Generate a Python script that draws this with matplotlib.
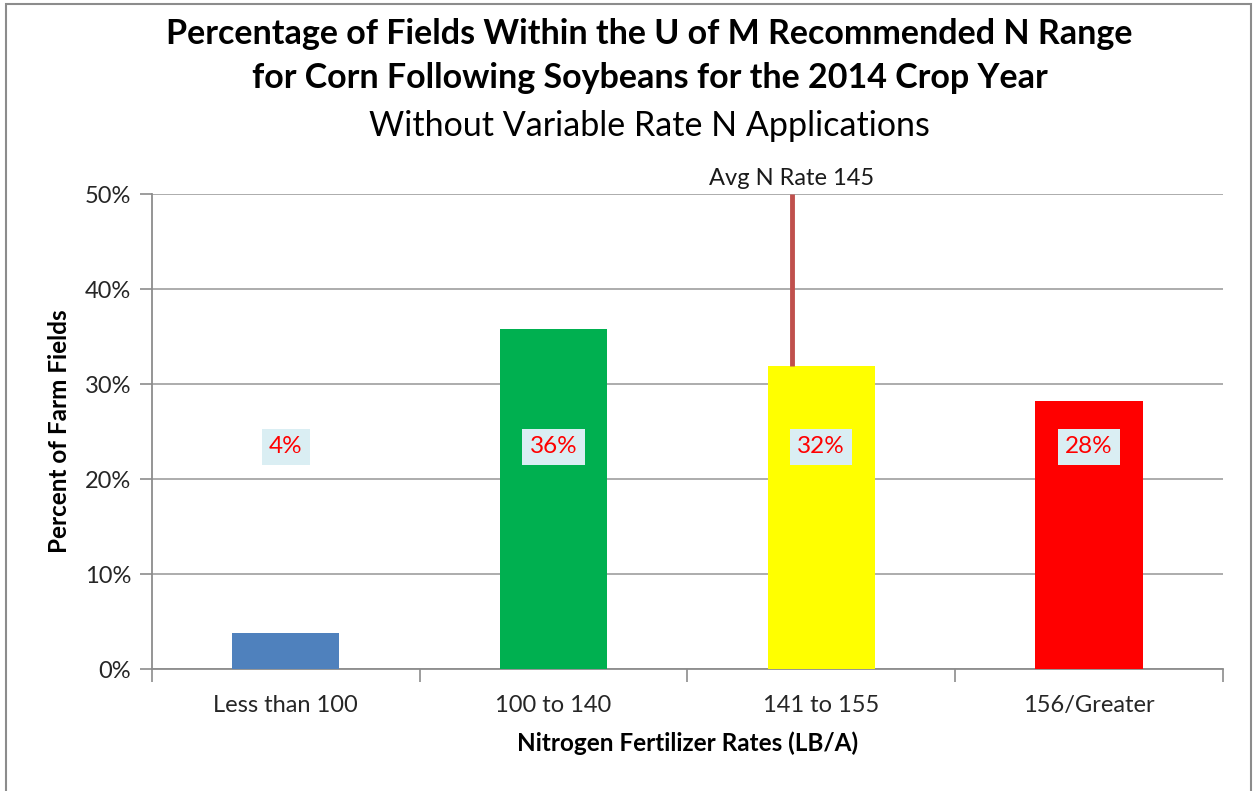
import matplotlib.pyplot as plt
from matplotlib.patches import Rectangle

categories = ["Less than 100", "100 to 140", "141 to 155", "156/Greater"]
percents = [3.8, 35.8, 31.9, 28.2]
labels = ["4%", "36%", "32%", "28%"]
bar_colors = ["#4F81BD", "#00B050", "#FFFF00", "#FF0000"]
avg_rate_pos = 1.89
avg_label = "Avg N Rate 145"

plt.rcParams['font.family'] = ['Lato', 'DejaVu Sans']

fig = plt.figure(figsize=(12.54, 7.91), dpi=100)
ax = fig.add_axes([0.1212, 0.1542, 0.854, 0.6005])

x = list(range(len(categories)))
ax.bar(x, percents, width=0.4, color=bar_colors, zorder=3)

# data labels with light blue boxes
for i in x:
    ax.text(i, 23.4, labels[i], ha='center', va='center', fontsize=17.5, color='#FF0000', zorder=5,
            bbox=dict(boxstyle='square,pad=0.3', facecolor='#DAEEF3', edgecolor='none'))

# average rate marker line
ax.plot([avg_rate_pos, avg_rate_pos], [percents[2], 50], color='#C0504D', linewidth=3.5, zorder=4,
        solid_capstyle='butt')
ax.text(avg_rate_pos, 50.5, avg_label, ha='center', va='bottom', fontsize=17, color='#1a1a1a')

ax.set_xlim(-0.5, 3.5)
ax.set_ylim(0, 50)
ax.set_yticks(range(0, 51, 10))
ax.set_yticklabels([f"{v}%" for v in range(0, 51, 10)], fontsize=17, color='#262626')
ax.set_xticks(x)
ax.set_xticklabels(categories, fontsize=17, color='#262626')
ax.tick_params(axis='x', length=0, pad=19)
ax.set_xticks([-0.5, 0.5, 1.5, 2.5, 3.5], minor=True)
ax.tick_params(axis='x', which='minor', length=9, color='#8c8c8c', width=1.2)
ax.tick_params(axis='y', length=9, color='#8c8c8c', width=1.2, pad=6)

ax.grid(axis='y', color='#a6a6a6', linewidth=1.3, zorder=0)
for s in ['top', 'right']:
    ax.spines[s].set_visible(False)
for s in ['left', 'bottom']:
    ax.spines[s].set_color('#8c8c8c')
    ax.spines[s].set_linewidth(1.3)

ax.set_xlabel("Nitrogen Fertilizer Rates (LB/A)", fontsize=17.5, fontweight='bold', labelpad=11)
ax.set_ylabel("Percent of Farm Fields", fontsize=17.5, fontweight='bold', labelpad=10)

fig.text(0.518, 0.957, "Percentage of Fields Within the U of M Recommended N Range",
         ha='center', va='center', fontsize=24.5, fontweight='bold')
fig.text(0.518, 0.901, "for Corn Following Soybeans for the 2014 Crop Year",
         ha='center', va='center', fontsize=24.5, fontweight='bold')
fig.text(0.518, 0.841, "Without Variable Rate N Applications",
         ha='center', va='center', fontsize=24.5)

# outer chart border
fig.add_artist(Rectangle((0.005, -0.01), 0.993, 1.005, transform=fig.transFigure,
                         fill=False, edgecolor='#8c8c8c', linewidth=1.5))

fig.savefig("out.png", dpi=100)
